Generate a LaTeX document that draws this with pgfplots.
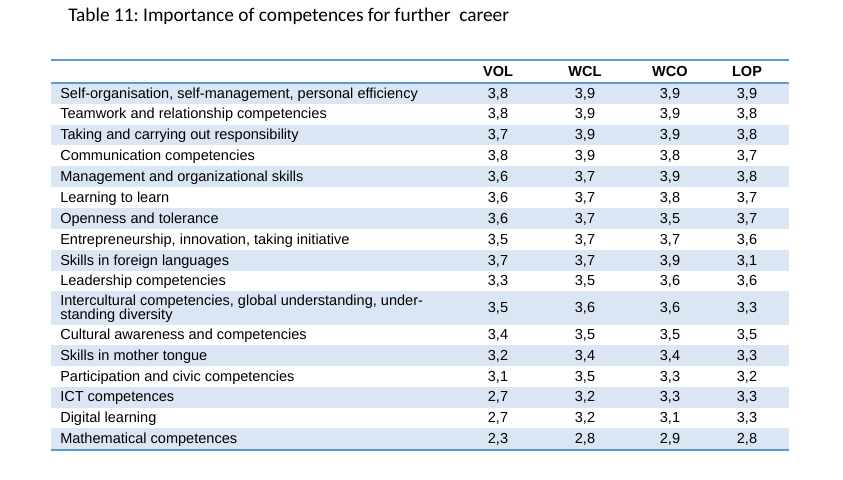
\documentclass[border=0pt]{standalone}
\usepackage{fontspec}
\setmainfont{Liberation Sans}
\newfontfamily\calibri{Carlito}
\usepackage{pgfplots}
\usepackage{pgfplotstable}
\pgfplotsset{compat=1.18}
\definecolor{shade}{RGB}{219,230,244}
\definecolor{rule}{RGB}{91,155,213}
\frenchspacing

% baseline (px from top) and values per row
\pgfplotstableread{
base VOL WCL WCO LOP
98 3.8 3.9 3.9 3.9
118.5 3.8 3.9 3.9 3.8
139 3.7 3.9 3.9 3.8
160 3.8 3.9 3.8 3.7
181 3.6 3.7 3.9 3.8
202 3.6 3.7 3.8 3.7
223 3.6 3.7 3.5 3.7
244 3.5 3.7 3.7 3.6
265 3.7 3.7 3.9 3.1
285.5 3.3 3.5 3.6 3.6
312 3.5 3.6 3.6 3.3
339 3.4 3.5 3.5 3.5
360 3.2 3.4 3.4 3.3
381 3.1 3.5 3.3 3.2
401.5 2.7 3.2 3.3 3.3
422 2.7 3.2 3.1 3.3
443 2.3 2.8 2.9 2.8
}\values

\begin{document}
\frenchspacing
\begin{tikzpicture}
\begin{axis}[
  scale only axis, width=632.25pt, height=359.25pt,
  xmin=0, xmax=843, ymin=0, ymax=479, y dir=reverse,
  hide axis, clip=false,
  every node near coord/.append style={inner sep=0pt, font=\frenchspacing\fontsize{10.9}{13}\selectfont, text=black},
]
\path (rel axis cs:0,0) rectangle (rel axis cs:1,1);
% shaded rows
\addplot[fill=shade, draw=none] coordinates {(51,83) (788.5,83) (788.5,104) (51,104)} -- cycle;
\addplot[fill=shade, draw=none] coordinates {(51,124.5) (788.5,124.5) (788.5,145) (51,145)} -- cycle;
\addplot[fill=shade, draw=none] coordinates {(51,166) (788.5,166) (788.5,187) (51,187)} -- cycle;
\addplot[fill=shade, draw=none] coordinates {(51,208) (788.5,208) (788.5,229) (51,229)} -- cycle;
\addplot[fill=shade, draw=none] coordinates {(51,250) (788.5,250) (788.5,271) (51,271)} -- cycle;
\addplot[fill=shade, draw=none] coordinates {(51,291) (788.5,291) (788.5,325) (51,325)} -- cycle;
\addplot[fill=shade, draw=none] coordinates {(51,345) (788.5,345) (788.5,366) (51,366)} -- cycle;
\addplot[fill=shade, draw=none] coordinates {(51,387) (788.5,387) (788.5,407.5) (51,407.5)} -- cycle;
\addplot[fill=shade, draw=none] coordinates {(51,428) (788.5,428) (788.5,449) (51,449)} -- cycle;
% rules
\addplot[rule, line width=1.5pt] coordinates {(51,59.5) (788.5,59.5)};
\addplot[rule, line width=1.5pt] coordinates {(51,82.5) (788.5,82.5)};
\addplot[rule, line width=1.5pt] coordinates {(51,449.5) (788.5,449.5)};
% title and header
\node[anchor=base west, inner sep=0pt, font=\frenchspacing\calibri\fontsize{14.5}{17}\selectfont] at (axis cs:68,21) {Table 11: Importance of competences for further\ \ career};
\node[anchor=base, inner sep=0pt, font=\bfseries\fontsize{10.9}{13}\selectfont] at (axis cs:498,76) {VOL};
\node[anchor=base, inner sep=0pt, font=\bfseries\fontsize{10.9}{13}\selectfont] at (axis cs:585,76) {WCL};
\node[anchor=base, inner sep=0pt, font=\bfseries\fontsize{10.9}{13}\selectfont] at (axis cs:670,76) {WCO};
\node[anchor=base, inner sep=0pt, font=\bfseries\fontsize{10.9}{13}\selectfont] at (axis cs:747,76) {LOP};
% row labels
\addplot[draw=none, mark=none, point meta=explicit symbolic, nodes near coords,
  every node near coord/.append style={anchor=base west}] coordinates {
(60,98) [Self-organisation, self-management, personal efficiency]
(60,118.5) [Teamwork and relationship competencies]
(60,139) [Taking and carrying out responsibility]
(60,160) [Communication competencies]
(60,181) [Management and organizational skills]
(60,202) [Learning to learn]
(60,223) [Openness and tolerance]
(60,244) [Entrepreneurship, innovation, taking initiative]
(60,265) [Skills in foreign languages]
(60,285.5) [Leadership competencies]
(60,305) [Intercultural competencies, global understanding, under-]
(60,319.5) [standing diversity]
(60,339) [Cultural awareness and competencies]
(60,360) [Skills in mother tongue]
(60,381) [Participation and civic competencies]
(60,401.5) [ICT competences]
(60,422) [Digital learning]
(60,443) [Mathematical competences]
};
% values
\pgfplotsset{valstyle/.style={draw=none, mark=none, point meta=explicit,
  nodes near coords={\pgfmathprintnumber[fixed,fixed zerofill,precision=1,use comma,assume math mode=true]{\pgfplotspointmeta}},
  every node near coord/.append style={anchor=base}}}
\addplot[valstyle] table[x expr=498, y=base, meta=VOL] {\values};
\addplot[valstyle] table[x expr=585, y=base, meta=WCL] {\values};
\addplot[valstyle] table[x expr=670, y=base, meta=WCO] {\values};
\addplot[valstyle] table[x expr=747, y=base, meta=LOP] {\values};
\end{axis}
\end{tikzpicture}
\end{document}
